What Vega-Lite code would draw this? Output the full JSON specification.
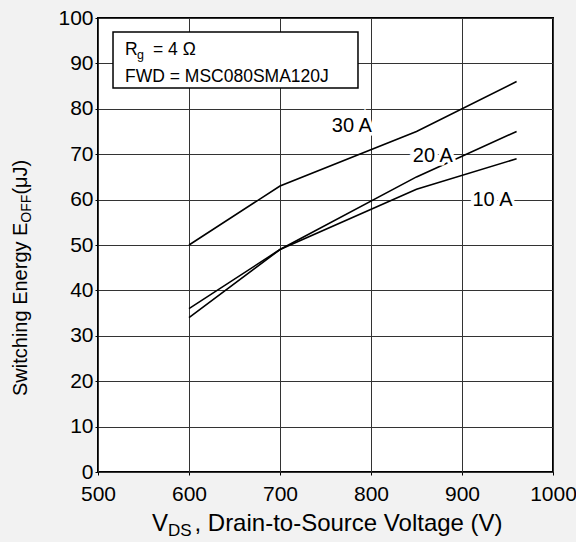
{
  "$schema": "https://vega.github.io/schema/vega-lite/v6.json",
  "autosize": "none",
  "width": 455,
  "height": 454,
  "padding": {"left": 98, "top": 18, "right": 23, "bottom": 70},
  "background": "#f2f2f2",
  "config": {
    "view": {"fill": "white", "stroke": "black", "strokeWidth": 2},
    "font": "Liberation Sans",
    "text": {"font": "Liberation Sans", "color": "black"}
  },
  "datasets": {
    "curves": [
      {"current": "30 A", "vds": 600, "eoff": 50},
      {"current": "30 A", "vds": 700, "eoff": 63},
      {"current": "30 A", "vds": 850, "eoff": 75},
      {"current": "30 A", "vds": 960, "eoff": 86},
      {"current": "20 A", "vds": 600, "eoff": 36},
      {"current": "20 A", "vds": 700, "eoff": 49},
      {"current": "20 A", "vds": 850, "eoff": 65},
      {"current": "20 A", "vds": 960, "eoff": 75},
      {"current": "10 A", "vds": 600, "eoff": 34},
      {"current": "10 A", "vds": 700, "eoff": 49},
      {"current": "10 A", "vds": 850, "eoff": 62.3},
      {"current": "10 A", "vds": 960, "eoff": 69}
    ],
    "labels": [
      {"text": "30 A", "vds": 779, "eoff": 76.2},
      {"text": "20 A", "vds": 868, "eoff": 69.5},
      {"text": "10 A", "vds": 933.5, "eoff": 59.9}
    ],
    "box": [
      {"v1": 516.5, "v2": 785.7, "e1": 96.9, "e2": 84.6}
    ],
    "boxText": [
      {"part": "main", "text": "R", "vds": 529.7, "eoff": 91.85},
      {"part": "sub", "text": "g", "vds": 542.9, "eoff": 90.97},
      {"part": "main", "text": "= 4 Ω", "vds": 560.4, "eoff": 91.85},
      {"part": "main", "text": "FWD = MSC080SMA120J", "vds": 529.7, "eoff": 86.0}
    ],
    "xTitle": [
      {"part": "main", "text": "V", "vds": 559.3, "eoff": -13.0},
      {"part": "sub", "text": "DS", "vds": 576.9, "eoff": -14.1},
      {"part": "main", "text": ", Drain-to-Source Voltage (V)", "vds": 606.0, "eoff": -13.0}
    ],
    "yTitle": [
      {"part": "main", "text": "Switching Energy E", "vds": 422.0, "eoff": 16.74},
      {"part": "sub", "text": "OFF", "vds": 426.4, "eoff": 54.9},
      {"part": "main", "text": "(μJ)", "vds": 422.0, "eoff": 61.1}
    ]
  },
  "layer": [
    {
      "data": {"name": "curves"},
      "mark": {"type": "line", "color": "black", "strokeWidth": 1.6},
      "encoding": {
        "x": {
          "field": "vds", "type": "quantitative",
          "scale": {"domain": [500, 1000], "nice": false, "zero": false},
          "axis": {
            "title": null, "values": [500, 600, 700, 800, 900, 1000], "format": "d",
            "grid": true, "gridColor": "#333", "gridWidth": 1, "gridOpacity": 1,
            "domain": false, "tickColor": "black", "tickSize": 3,
            "labelFontSize": 21, "labelColor": "black", "labelFont": "Liberation Sans",
            "labelPadding": 8, "labelFlush": false, "labelOverlap": false
          }
        },
        "y": {
          "field": "eoff", "type": "quantitative",
          "scale": {"domain": [0, 100], "nice": false, "zero": false},
          "axis": {
            "title": null, "values": [0, 10, 20, 30, 40, 50, 60, 70, 80, 90, 100], "format": "d",
            "grid": true, "gridColor": "#333", "gridWidth": 1, "gridOpacity": 1,
            "domain": false, "tickColor": "black", "tickSize": 3,
            "labelFontSize": 21, "labelColor": "black", "labelFont": "Liberation Sans",
            "labelPadding": 2, "labelFlush": false, "labelOverlap": false
          }
        },
        "detail": {"field": "current", "type": "nominal"}
      }
    },
    {
      "data": {"name": "box"},
      "mark": {"type": "rect", "fill": "white", "stroke": "black", "strokeWidth": 1.5},
      "encoding": {
        "x": {"field": "v1", "type": "quantitative", "scale": {"domain": [500, 1000], "nice": false, "zero": false}},
        "x2": {"field": "v2"},
        "y": {"field": "e1", "type": "quantitative", "scale": {"domain": [0, 100], "nice": false, "zero": false}},
        "y2": {"field": "e2"}
      }
    },
    {
      "data": {"name": "labels"},
      "mark": {"type": "text", "fontSize": 20, "align": "center", "baseline": "middle", "stroke": "white", "strokeWidth": 7, "fill": "white"},
      "encoding": {
        "x": {"field": "vds", "type": "quantitative", "scale": {"domain": [500, 1000], "nice": false, "zero": false}},
        "y": {"field": "eoff", "type": "quantitative", "scale": {"domain": [0, 100], "nice": false, "zero": false}},
        "text": {"field": "text"}
      }
    },
    {
      "data": {"name": "labels"},
      "mark": {"type": "text", "fontSize": 20, "align": "center", "baseline": "middle", "color": "black"},
      "encoding": {
        "x": {"field": "vds", "type": "quantitative", "scale": {"domain": [500, 1000], "nice": false, "zero": false}},
        "y": {"field": "eoff", "type": "quantitative", "scale": {"domain": [0, 100], "nice": false, "zero": false}},
        "text": {"field": "text"}
      }
    },
    {
      "data": {"name": "boxText"},
      "transform": [{"filter": "datum.part === 'main'"}],
      "mark": {"type": "text", "fontSize": 17.5, "align": "left", "baseline": "alphabetic", "color": "black"},
      "encoding": {
        "x": {"field": "vds", "type": "quantitative", "scale": {"domain": [500, 1000], "nice": false, "zero": false}},
        "y": {"field": "eoff", "type": "quantitative", "scale": {"domain": [0, 100], "nice": false, "zero": false}},
        "text": {"field": "text"}
      }
    },
    {
      "data": {"name": "boxText"},
      "transform": [{"filter": "datum.part === 'sub'"}],
      "mark": {"type": "text", "fontSize": 12.5, "align": "left", "baseline": "alphabetic", "color": "black"},
      "encoding": {
        "x": {"field": "vds", "type": "quantitative", "scale": {"domain": [500, 1000], "nice": false, "zero": false}},
        "y": {"field": "eoff", "type": "quantitative", "scale": {"domain": [0, 100], "nice": false, "zero": false}},
        "text": {"field": "text"}
      }
    },
    {
      "data": {"name": "xTitle"},
      "transform": [{"filter": "datum.part === 'main'"}],
      "mark": {"type": "text", "fontSize": 24, "align": "left", "baseline": "alphabetic", "color": "black"},
      "encoding": {
        "x": {"field": "vds", "type": "quantitative", "scale": {"domain": [500, 1000], "nice": false, "zero": false}},
        "y": {"field": "eoff", "type": "quantitative", "scale": {"domain": [0, 100], "nice": false, "zero": false}},
        "text": {"field": "text"}
      }
    },
    {
      "data": {"name": "xTitle"},
      "transform": [{"filter": "datum.part === 'sub'"}],
      "mark": {"type": "text", "fontSize": 17, "align": "left", "baseline": "alphabetic", "color": "black"},
      "encoding": {
        "x": {"field": "vds", "type": "quantitative", "scale": {"domain": [500, 1000], "nice": false, "zero": false}},
        "y": {"field": "eoff", "type": "quantitative", "scale": {"domain": [0, 100], "nice": false, "zero": false}},
        "text": {"field": "text"}
      }
    },
    {
      "data": {"name": "yTitle"},
      "transform": [{"filter": "datum.part === 'main'"}],
      "mark": {"type": "text", "fontSize": 20, "angle": 270, "align": "left", "baseline": "alphabetic", "color": "black"},
      "encoding": {
        "x": {"field": "vds", "type": "quantitative", "scale": {"domain": [500, 1000], "nice": false, "zero": false}},
        "y": {"field": "eoff", "type": "quantitative", "scale": {"domain": [0, 100], "nice": false, "zero": false}},
        "text": {"field": "text"}
      }
    },
    {
      "data": {"name": "yTitle"},
      "transform": [{"filter": "datum.part === 'sub'"}],
      "mark": {"type": "text", "fontSize": 14, "angle": 270, "align": "left", "baseline": "alphabetic", "color": "black"},
      "encoding": {
        "x": {"field": "vds", "type": "quantitative", "scale": {"domain": [500, 1000], "nice": false, "zero": false}},
        "y": {"field": "eoff", "type": "quantitative", "scale": {"domain": [0, 100], "nice": false, "zero": false}},
        "text": {"field": "text"}
      }
    }
  ]
}
